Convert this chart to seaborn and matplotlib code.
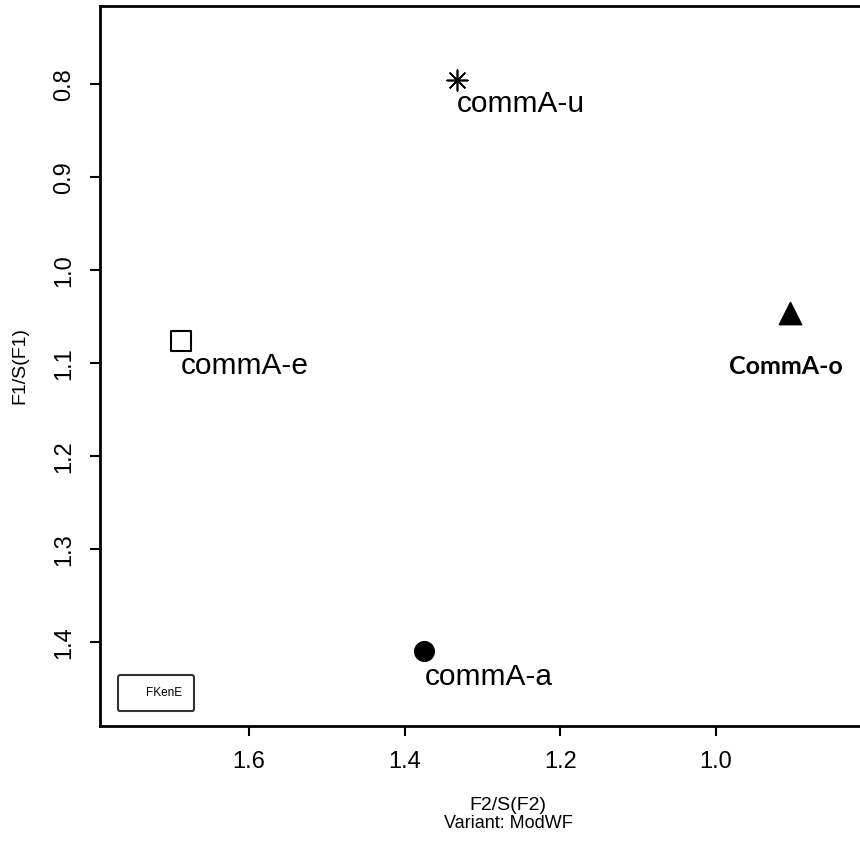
import matplotlib
matplotlib.use("Agg")
import matplotlib.pyplot as plt
import seaborn as sns
import pandas as pd
from matplotlib.lines import Line2D

# Normalised formant positions per vowel
vowels = ["commA-u", "commA-e", "CommA-o", "commA-a"]
f2_norm = [1.333, 1.687, 0.905, 1.375]
f1_norm = [0.796, 1.076, 1.046, 1.409]

x_ticks = [1.6, 1.4, 1.2, 1.0]
y_ticks = [0.8, 0.9, 1.0, 1.1, 1.2, 1.3, 1.4]

df = pd.DataFrame({"vowel": vowels, "F2": f2_norm, "F1": f1_norm})

sns.set_theme(style="white")
plt.rcParams["font.family"] = ["Liberation Sans", "DejaVu Sans"]
plt.rcParams["text.color"] = "black"
plt.rcParams["axes.labelcolor"] = "black"
plt.rcParams["xtick.color"] = "black"
plt.rcParams["ytick.color"] = "black"

fig = plt.figure(figsize=(8.60, 8.42), dpi=100)
ax = fig.add_axes([100 / 860, 116 / 842, 816 / 860, 720 / 842])

marker_style = {
    "commA-u": dict(marker=(8, 2, 0), s=220, color="black", linewidth=1.2),
    "commA-e": dict(marker="s", s=210, facecolor="white", edgecolor="black", linewidth=1.5),
    "CommA-o": dict(marker="^", s=260, color="black", edgecolor="black", linewidth=1),
    "commA-a": dict(marker="o", s=200, color="black", edgecolor="black", linewidth=1),
}

for v in vowels:
    sub = df[df["vowel"] == v]
    sns.scatterplot(data=sub, x="F2", y="F1", ax=ax, legend=False, **marker_style[v])

label_offset = {
    "commA-u": (0, -10),
    "commA-e": (-1, -11),
    "commA-a": (1, -12),
}
for v, x, y in zip(vowels, f2_norm, f1_norm):
    if v == "CommA-o":
        ax.annotate(v, (x, y), xytext=(-4, -42), textcoords="offset pixels",
                    ha="center", va="top", fontsize=18, fontweight="bold",
                    family=["Lato", "DejaVu Sans"], color="black")
    else:
        ax.annotate(v, (x, y), xytext=label_offset[v], textcoords="offset pixels",
                    ha="left", va="top", fontsize=21.5, color="black")

ax.set_xlim(1.7915, 0.743)
ax.set_ylim(1.490, 0.716)
ax.set_xticks(x_ticks)
ax.set_xticklabels([f"{t:.1f}" for t in x_ticks])
ax.set_yticks(y_ticks)
ax.set_yticklabels([f"{t:.1f}" for t in y_ticks], rotation=90, va="center")
ax.tick_params(axis="both", which="major", direction="out", length=7, width=1.5,
               color="black", labelsize=17, labelcolor="black",
               bottom=True, left=True, pad=11)

for side in ["left", "bottom", "top"]:
    ax.spines[side].set_visible(True)
    ax.spines[side].set_color("black")
    ax.spines[side].set_linewidth(2)
ax.spines["right"].set_visible(False)

ax.set_xlabel("F2/S(F2)", fontsize=14, labelpad=17, color="black")
ax.set_ylabel("F1/S(F1)", fontsize=14, labelpad=18, color="black")
fig.text(508 / 860, 1 - 824 / 842, "Variant: ModWF", ha="center", va="center",
         fontsize=13, color="black")

leg = ax.legend(handles=[Line2D([], [], linestyle="none")], labels=["FKenE"],
                loc="lower left", bbox_to_anchor=(18 / 816, 15 / 720),
                bbox_transform=ax.transAxes, borderaxespad=0, fontsize=8.5,
                handlelength=0.6, handletextpad=0.8,
                borderpad=1.0, frameon=True, fancybox=True)
leg.get_frame().set_edgecolor("black")
leg.get_frame().set_linewidth(1.5)
for t in leg.get_texts():
    t.set_color("black")

fig.savefig("out.png", dpi=100)
